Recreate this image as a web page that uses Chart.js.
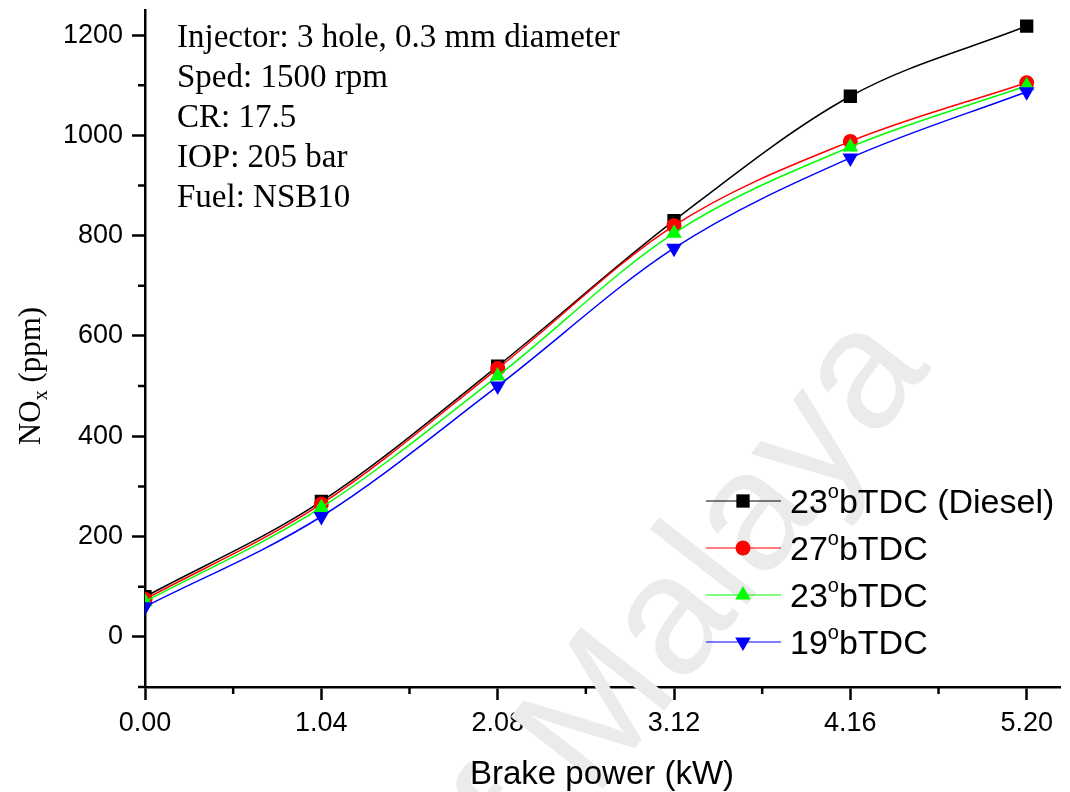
<!DOCTYPE html>
<html>
<head>
<meta charset="utf-8">
<script src="https://cdn.jsdelivr.net/npm/chart.js@4.4.0/dist/chart.umd.min.js"></script>
<style>
html, body { margin: 0; padding: 0; background: #fff; }
#wrap { width: 1070px; height: 792px; }
</style>
</head>
<body>
<div id="wrap"><canvas id="graph"></canvas></div>
<script>
const power = [0, 1.04, 2.08, 3.12, 4.16, 5.20];
const noxDiesel = [80, 270, 540, 830, 1078, 1218];
const nox27 = [75, 265, 535, 820, 988, 1105];
const nox23 = [70, 258, 520, 805, 977, 1099];
const nox19 = [60, 240, 500, 775, 955, 1087];
const angles = ['23', '27', '23', '19'];
const suffixes = [' (Diesel)', '', '', ''];
const xTicks = [0, 1.04, 2.08, 3.12, 4.16, 5.20];
const xMinor = [0.52, 1.56, 2.60, 3.64, 4.68];
const yTicks = [0, 200, 400, 600, 800, 1000, 1200];
const yMinor = [-100, 100, 300, 500, 700, 900, 1100];
const notes = ['Injector: 3 hole, 0.3 mm diameter', 'Sped: 1500 rpm', 'CR: 17.5', 'IOP: 205 bar', 'Fuel: NSB10'];

const graph = document.getElementById('graph');

function pts(vals) {
    return power.map((x, i) => ({x: x, y: vals[i]}));
}

const styles = [
    {color: '#000000', pointStyle: 'rect', radius: 9.4, rotation: 0},
    {color: '#ff0000', pointStyle: 'circle', radius: 7.5, rotation: 0},
    {color: '#00ff00', pointStyle: 'triangle', radius: 9, rotation: 0},
    {color: '#0000ff', pointStyle: 'triangle', radius: 9, rotation: 180},
];
const allSeries = [noxDiesel, nox27, nox23, nox19];

const datasets = allSeries.map((s, i) => ({
    label: angles[i] + 'obTDC' + suffixes[i],
    data: pts(s),
    borderColor: styles[i].color,
    backgroundColor: styles[i].color,
    borderWidth: 1.5,
    pointStyle: styles[i].pointStyle,
    pointRadius: styles[i].radius,
    pointRotation: styles[i].rotation,
    pointBorderWidth: 0,
    pointHoverRadius: styles[i].radius,
    tension: 0.4,
    cubicInterpolationMode: 'monotone',
    order: 4 - i,
}));

const extras = {
    id: 'extras',
    beforeDatasetsDraw(chart) {
        const ctx = chart.ctx;
        // watermark
        ctx.save();
        ctx.translate(932, 368);
        ctx.rotate(-52 * Math.PI / 180);
        ctx.font = '170px "Liberation Sans"';
        ctx.fillStyle = '#ebebeb';
        ctx.textAlign = 'right';
        ctx.textBaseline = 'alphabetic';
        ctx.fillText('University of Malaya', 0, 0);
        ctx.restore();
    },
    afterDraw(chart) {
        const ctx = chart.ctx;
        const xs = chart.scales.x, ys = chart.scales.y;
        ctx.save();
        // minor ticks
        ctx.strokeStyle = '#000';
        ctx.lineWidth = 2.5;
        ctx.beginPath();
        xMinor.forEach(v => {
            const px = xs.getPixelForValue(v);
            ctx.moveTo(px, xs.top);
            ctx.lineTo(px, xs.top + 7);
        });
        yMinor.forEach(v => {
            const py = ys.getPixelForValue(v);
            ctx.moveTo(ys.right, py);
            ctx.lineTo(ys.right - 7, py);
        });
        ctx.stroke();

        // notes
        ctx.fillStyle = '#000';
        ctx.font = '33px "Liberation Serif"';
        ctx.textAlign = 'left';
        ctx.textBaseline = 'alphabetic';
        notes.forEach((t, i) => ctx.fillText(t, 177, 47 + i * 40));

        // x title
        ctx.font = '33px "Liberation Sans"';
        ctx.textAlign = 'center';
        ctx.fillText('Brake power (kW)', 602, 784);

        // y title
        ctx.save();
        ctx.translate(40, 376);
        ctx.rotate(-Math.PI / 2);
        ctx.textAlign = 'left';
        const big = '31px "Liberation Serif"', small = '20px "Liberation Serif"';
        ctx.font = big;
        const wNO = ctx.measureText('NO').width;
        const wP = ctx.measureText(' (ppm)').width;
        ctx.font = small;
        const wx = ctx.measureText('x').width;
        const start = -(wNO + wx + wP) / 2;
        ctx.font = big;
        ctx.fillText('NO', start, 0);
        ctx.font = small;
        ctx.fillText('x', start + wNO, 7);
        ctx.font = big;
        ctx.fillText(' (ppm)', start + wNO + wx, 0);
        ctx.restore();

        // legend
        const rows = [501, 548, 595, 642];
        rows.forEach((y, i) => {
            const st = styles[i];
            ctx.strokeStyle = st.color;
            ctx.lineWidth = 1.2;
            ctx.beginPath();
            ctx.moveTo(706, y);
            ctx.lineTo(781, y);
            ctx.stroke();
            ctx.fillStyle = st.color;
            Chart.helpers.drawPoint(ctx, {pointStyle: st.pointStyle, radius: st.radius, rotation: st.rotation, borderWidth: 0}, 743, y);
            ctx.fillStyle = '#000';
            ctx.textAlign = 'left';
            ctx.textBaseline = 'alphabetic';
            const base = y + 12;
            ctx.font = '34px "Liberation Sans"';
            ctx.fillText(angles[i], 790, base);
            let x = 790 + ctx.measureText(angles[i]).width;
            ctx.font = '20px "Liberation Sans"';
            ctx.fillText('o', x, base - 15);
            x += ctx.measureText('o').width;
            ctx.font = '34px "Liberation Sans"';
            ctx.fillText('bTDC' + suffixes[i], x, base);
        });
        ctx.restore();
    }
};

new Chart(graph, {
    type: 'scatter',
    data: {datasets: datasets},
    options: {
        responsive: true,
        maintainAspectRatio: false,
        animation: false,
        showLine: true,
        layout: {padding: {top: 10, right: 9, left: 0, bottom: 0}},
        plugins: {legend: {display: false}, tooltip: {enabled: false}},
        scales: {
            x: {
                type: 'linear',
                min: 0,
                max: 5.4,
                afterBuildTicks: s => { s.ticks = xTicks.map(v => ({value: v})); },
                afterFit: s => { s.height = 105; s.paddingLeft = 0; s.paddingRight = 0; },
                ticks: {
                    callback: v => Number(v).toFixed(2),
                    font: {family: 'Liberation Sans', size: 27},
                    color: '#000',
                    padding: 7,
                    maxRotation: 0,
                    autoSkip: false,
                },
                grid: {drawOnChartArea: false, drawTicks: true, tickLength: 13, tickWidth: 2.5, tickColor: '#000'},
                border: {display: true, color: '#000', width: 2.5},
            },
            y: {
                type: 'linear',
                min: -100,
                max: 1250,
                afterBuildTicks: s => { s.ticks = yTicks.map(v => ({value: v})); },
                afterFit: s => { s.width = 145; s.paddingTop = 0; s.paddingBottom = 0; },
                ticks: {
                    callback: v => String(v),
                    font: {family: 'Liberation Sans', size: 27},
                    color: '#000',
                    padding: 9,
                    autoSkip: false,
                },
                grid: {drawOnChartArea: false, drawTicks: true, tickLength: 13, tickWidth: 2.5, tickColor: '#000'},
                border: {display: true, color: '#000', width: 2.5},
            }
        }
    },
    plugins: [extras]
});
</script>
</body>
</html>
